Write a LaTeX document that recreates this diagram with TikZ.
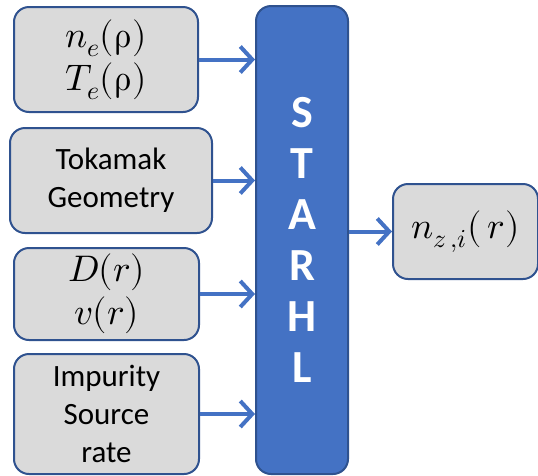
\documentclass[tikz,border=0pt]{standalone}
\usepackage{fontspec}
\usepackage{unicode-math}
\setmainfont{Carlito}
\setmathfont{Latin Modern Math}
\usetikzlibrary{arrows.meta}
\definecolor{boxfill}{HTML}{DADADA}
\definecolor{boxline}{HTML}{2F528F}
\definecolor{accent}{HTML}{4472C4}
\tikzset{
  inbox/.style={draw=boxline, line width=2pt, fill=boxfill, rounded corners=15pt,
    anchor=north west, align=center, inner sep=0pt, text=black,
    font=\fontsize{31}{38}\selectfont},
  mathbox/.style={inbox, font=\fontsize{37}{43}\selectfont},
  mainbox/.style={draw=boxline, line width=2pt, fill=accent, rounded corners=15pt,
    anchor=north west, inner sep=0pt},
  conn/.style={draw=accent, line width=4pt, -{Straight Barb[length=12pt,width=26pt,line width=4pt]}},
}
\begin{document}
\begin{tikzpicture}[x=1pt,y=-1pt]
\useasboundingbox (0,0) rectangle (538,475);
\node[mathbox, minimum width=184pt, minimum height=105pt] (b1) at (13,6)
  {$n_e(\symup{\rho})$\\ $T_e(\symup{\rho})$};
\node[inbox, minimum width=202pt, minimum height=105pt] (b2) at (9,127)
  {Tokamak\\ Geometry};
\node[mathbox, minimum width=185pt, minimum height=92pt] (b3) at (13,247)
  {$D(r)$\\ $v(r)$};
\node[inbox, minimum width=185pt, minimum height=120pt] (b4) at (13,353)
  {Impurity\\ Source\\ rate};
\node[mainbox, minimum width=92pt, minimum height=468pt] (st) at (255,5) {};
\node[align=center, text=white, font=\fontsize{46}{51}\bfseries\selectfont] (lbl) at (st.center)
  {S\\ T\\ A\\ R\\ H\\ L};
\node[mathbox, minimum width=145pt, minimum height=95pt] (out) at (392,183)
  {$n_{z\,,i}(\,r)$};
\draw[conn] (b1.east) -- (b1.east -| st.west);
\draw[conn] (b2.east) -- (b2.east -| st.west);
\draw[conn] (b3.east) -- (b3.east -| st.west);
\draw[conn] (b4.east) -- (b4.east -| st.west);
\draw[conn] (st.east |- out.west) -- (out.west);
\end{tikzpicture}
\end{document}
